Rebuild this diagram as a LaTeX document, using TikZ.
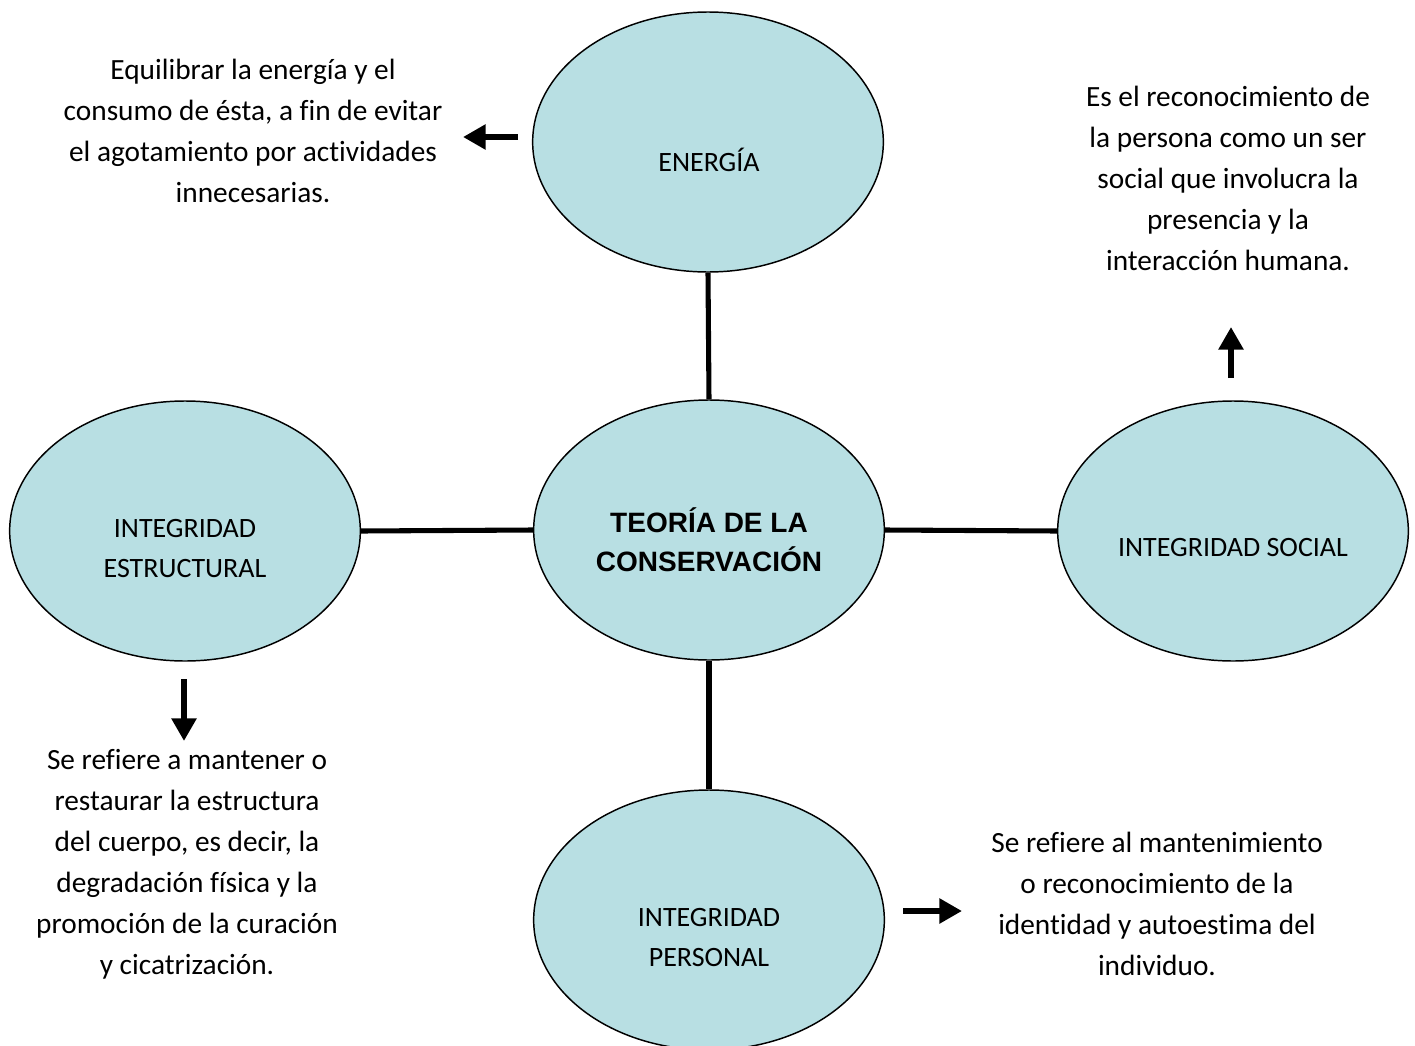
\documentclass[tikz,border=0pt]{standalone}
\usepackage{fontspec}
\setmainfont{Carlito}[Ligatures=CommonOff]
\newfontfamily\titlefont{Liberation Sans}
\usepackage{xcolor}
\usetikzlibrary{arrows.meta, shapes.geometric}
\definecolor{bubblefill}{RGB}{184,223,227}

\begin{document}
\begin{tikzpicture}[
    x=0.75pt, y=-0.75pt,
    bubble/.style={ellipse, draw, fill=bubblefill, line width=1.1pt,
                   minimum width=263pt, minimum height=195pt, inner sep=0pt},
    lbl/.style={align=center, font=\fontsize{21}{30}\selectfont},
    note/.style={align=center, font=\fontsize{22}{30.75}\selectfont},
    link/.style={line width=3.8pt},
    pointer/.style={line width=5.2pt, -{Triangle[length=17pt, width=18pt]}}
]
    \useasboundingbox (0,0) rectangle (1415,1046);

    \node[bubble] (core)   at (709,530)  {};
    \node[bubble] (energy) at (708,142)  {};
    \node[bubble] (struct) at (185,531)  {};
    \node[bubble] (social) at (1233,531) {};
    \node[bubble] (person) at (709,920)  {};

    \node[lbl, font=\titlefont\bfseries\fontsize{21}{29}\selectfont] (core-t)
        at (709,540) {TEORÍA DE LA\\CONSERVACIÓN};
    \node[lbl] (energy-t) at (709,160)  {ENERGÍA};
    \node[lbl] (struct-t) at (185,549)  {INTEGRIDAD\\ESTRUCTURAL};
    \node[lbl] (social-t) at (1233,548) {INTEGRIDAD SOCIAL};
    \node[lbl] (person-t) at (709,938)  {INTEGRIDAD\\PERSONAL};

    \draw[link] (energy.south) -- (core.north);
    \draw[link] (core.south)   -- (person.north);
    \draw[link] (struct.east)  -- (core.west);
    \draw[link] (core.east)    -- (social.west);

    % descriptions
    \node[note] (energy-n) at (253,131)
        {Equilibrar la energía y el\\consumo de ésta, a fin de evitar\\el agotamiento por actividades\\innecesarias.};
    \node[note] (social-n) at (1228,178)
        {Es el reconocimiento de\\la persona como un ser\\social que involucra la\\presencia y la\\interacción humana.};
    \node[note] (struct-n) at (187,864)
        {Se refiere a mantener o\\restaurar la estructura\\del cuerpo, es decir, la\\degradación física y la\\promoción de la curación\\y cicatrización.};
    \node[note] (person-n) at (1157,904)
        {Se refiere al mantenimiento\\o reconocimiento de la\\identidad y autoestima del\\individuo.};

    \coordinate (p1a) at (518,137);  \coordinate (p1b) at (463,137);
    \coordinate (p2a) at (1231,378); \coordinate (p2b) at (1231,327);
    \coordinate (p3a) at (184,679);  \coordinate (p3b) at (184,741);
    \coordinate (p4a) at (903,911);  \coordinate (p4b) at (962,911);

    \draw[pointer] (p1a) -- (p1b);
    \draw[pointer] (p2a) -- (p2b);
    \draw[pointer] (p3a) -- (p3b);
    \draw[pointer] (p4a) -- (p4b);
\end{tikzpicture}
\end{document}
